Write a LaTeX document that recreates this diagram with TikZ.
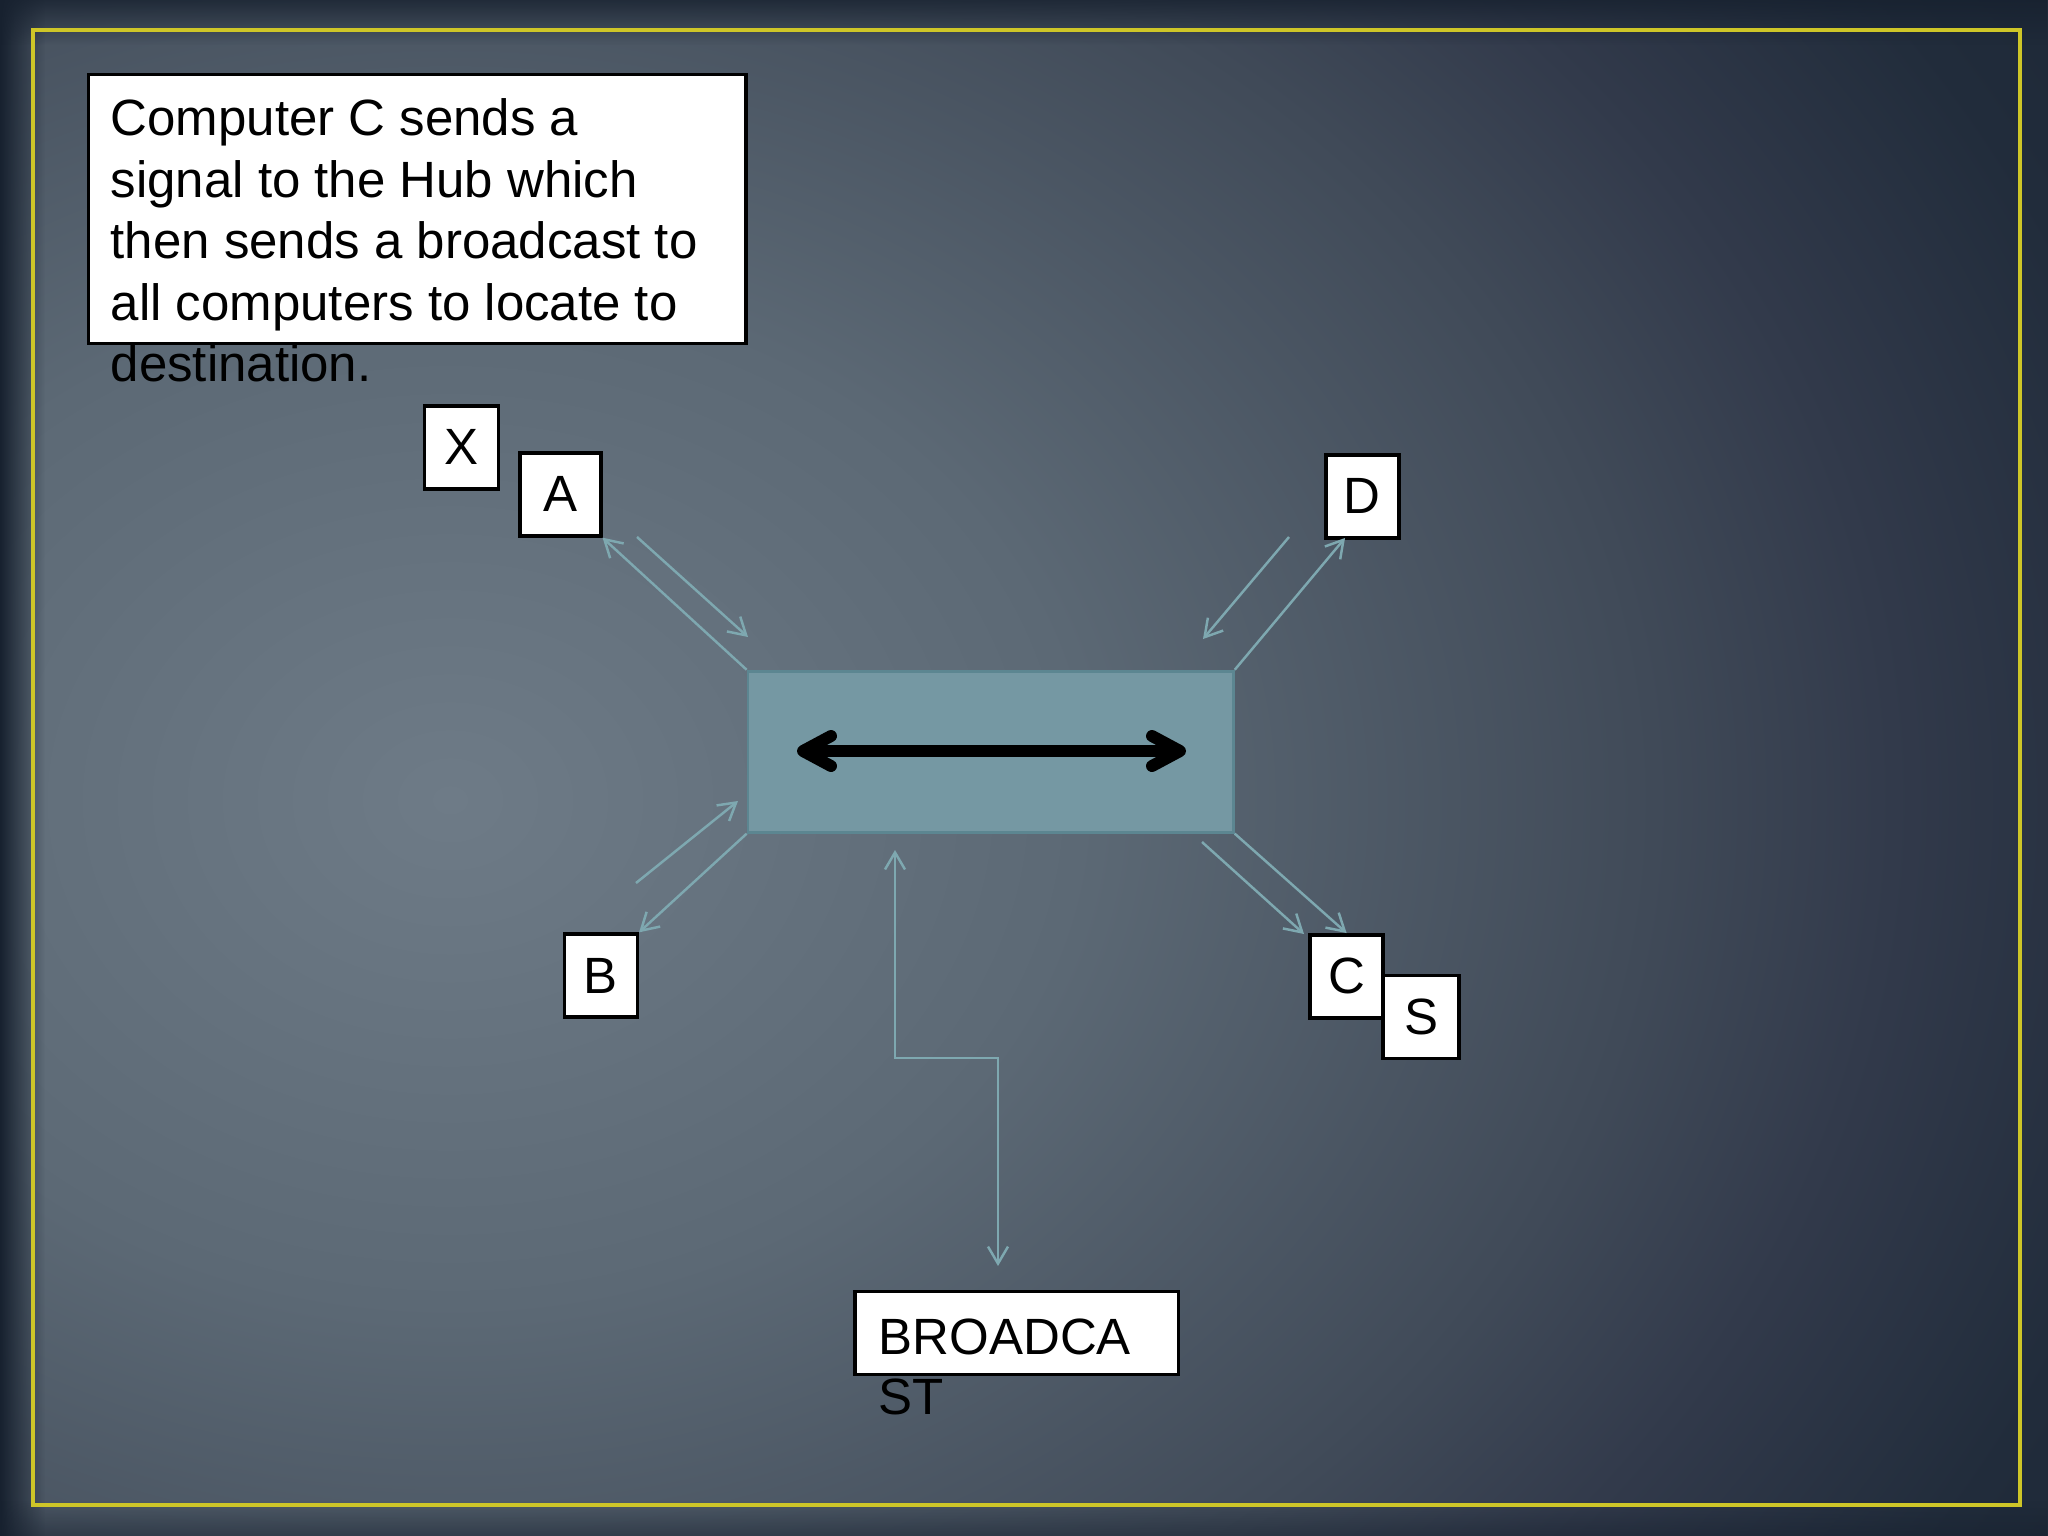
\documentclass[tikz,border=0pt]{standalone}
\usepackage{fontspec}
\setmainfont{Liberation Sans}
\usetikzlibrary{arrows.meta,calc,fadings}
\definecolor{bga}{RGB}{110,123,135}
\definecolor{bgb}{RGB}{92,105,117}
\definecolor{bgc}{RGB}{64,74,88}
\definecolor{bgd}{RGB}{50,58,75}
\definecolor{bge}{RGB}{33,44,59}
\definecolor{bgdeep}{RGB}{23,33,47}
\definecolor{frame}{RGB}{206,198,40}
\definecolor{hubfill}{RGB}{117,152,163}
\definecolor{hubedge}{RGB}{92,134,145}
\definecolor{linkc}{RGB}{126,168,176}
\pgfdeclareradialshading{bgglow}{\pgfpoint{0bp}{0bp}}{color(0bp)=(bga); color(4.5bp)=(bgb); color(8.6bp)=(bgc); color(10.3bp)=(bgd); color(12.5bp)=(bge); color(16.4bp)=(bgdeep); color(50bp)=(bgdeep)}

\begin{document}
\begin{tikzpicture}[x=0.01cm,y=-0.01cm,
  txt/.style={font=\fontsize{14.5}{17.4}\selectfont,inner sep=0pt},
  box/.style={txt,draw=black,line width=1pt,fill=white,minimum height=0.83cm},
  link/.style={draw=linkc,line width=0.7pt},
  >={Straight Barb[length=0.17cm,width=0.2cm]}]
  \useasboundingbox (0,0) rectangle (2048,1536);
  \fill[bgdeep] (0,0) rectangle (2048,1536);
  \begin{scope}
    \clip (0,0) rectangle (2048,1536);
    \shade[shading=bgglow] (450,800) ellipse (35cm and 28cm);
  \end{scope}
  \fill[bgdeep,path fading=east] (0,0) rectangle (45,1536);
  \fill[bgdeep,path fading=south,opacity=0.8] (0,0) rectangle (2048,45);
  \fill[bgdeep,path fading=north,opacity=0.5] (0,1500) rectangle (2048,1536);
  \draw[frame,line width=1pt] (33,30) rectangle (2020,1505);

  \node[box,minimum width=6.57cm,minimum height=2.69cm] (note) at (417.3,208.9) {};
  \foreach \t [count=\i] in {Computer C sends a,signal to the Hub which,then sends a broadcast to,all computers to locate to,destination.}
    \node[txt,anchor=base west] (line\i) at (110,{135.8+61.4*(\i-1)}) {\t};

  \node[draw=hubedge,fill=hubfill,line width=0.8pt,inner sep=0pt,minimum width=4.85cm,minimum height=1.61cm] (hub) at (990.7,751.7) {};
  \coordinate (hl) at (797,751);
  \coordinate (hr) at (1186,751);
  \draw[line width=3.4pt,{Straight Barb[length=0.28cm,width=0.3cm,line cap=round,line join=round]}-{Straight Barb[length=0.28cm,width=0.3cm,line cap=round,line join=round]}] (hl) -- (hr);

  \foreach \n/\x/\y/\w in {X/461.7/447.3/0.74,A/560.3/494.4/0.81,D/1362.3/496.3/0.73,B/600.8/975.6/0.73,C/1346.6/976.3/0.73,S/1421/1016.8/0.76}
    \node[box,minimum width=\w cm] (\n) at (\x,\y) {\n};

  \coordinate (a1) at (637,537);
  \coordinate (a2) at (748,637);
  \draw[link,->] (hub.north west) -- (A.south east);
  \draw[link,->] (a1) -- (a2);

  \coordinate (d1) at (1289,537);
  \coordinate (d2) at (1203,639);
  \coordinate (d3) at (1345,538);
  \draw[link,->] (d1) -- (d2);
  \draw[link,->] (hub.north east) -- (d3);

  \coordinate (b1) at (636,883);
  \coordinate (b2) at (738,801);
  \draw[link,->] (b1) -- (b2);
  \draw[link,->] (hub.south west) -- (B.north east);

  \coordinate (c1) at (1202,842);
  \coordinate (c2) at (1304,934);
  \draw[link,->] (c1) -- (c2);
  \draw[link,->] (hub.south east) -- (C.north);

  \node[box,minimum width=3.23cm] (bcast) at (1016.8,1332.9) {};
  \node[txt,anchor=base west] (bcline1) at (878,1354.4) {BROADCA};
  \node[txt,anchor=base west] (bcline2) at (878,1414.5) {ST};
  \coordinate (bc1) at (895,850);
  \coordinate (bc2) at (998,1266);
  \draw[link,<->] (bc1) |- ($(bc1)!.5!(bc2)$) -| (bc2);
\end{tikzpicture}
\end{document}
